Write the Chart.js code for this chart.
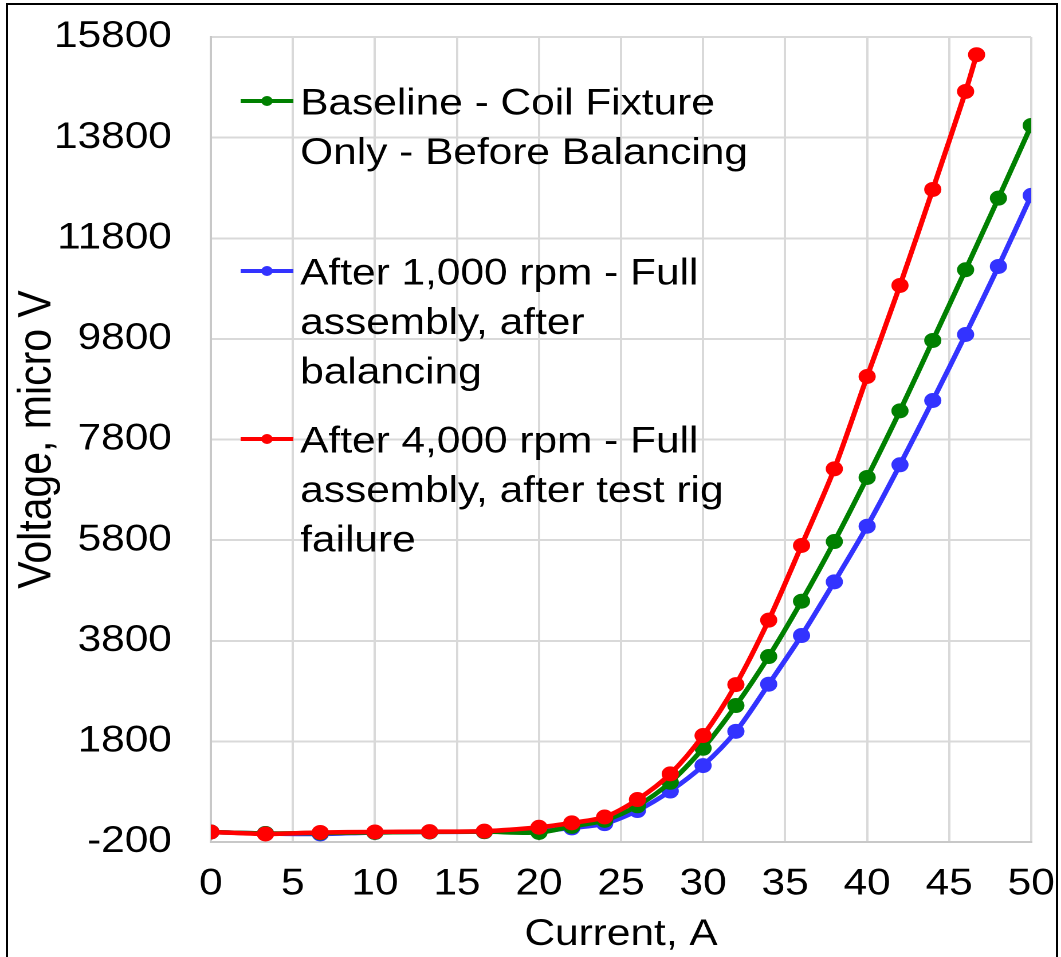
<!DOCTYPE html>
<html>
<head>
<meta charset="utf-8">
<script src="https://cdn.jsdelivr.net/npm/chart.js@4.4.1/dist/chart.umd.min.js"></script>
<style>
  html, body { margin: 0; padding: 0; background: #fff; }
  #page { position: relative; width: 1061px; height: 957px; overflow: hidden; background: #fff; }
  /* the reference text is a bit wide, so the chart is drawn narrower and stretched */
  #wrap { position: absolute; left: 0; top: 0; width: 926px; height: 957px; transform: scaleX(1.1458); transform-origin: 0 0; }
  #frame { position: absolute; left: 6px; top: 3px; right: 3px; bottom: -10px; border: 2px solid #000; pointer-events: none; }
</style>
</head>
<body>
<div id="page">
  <div id="wrap"><canvas id="chart" width="926" height="957"></canvas></div>
  <div id="frame"></div>
</div>
<script>
// Current, A
const currentLong = [0, 3.33, 6.67, 10, 13.33, 16.67, 20, 22, 24, 26, 28, 30, 32, 34, 36, 38, 40, 42, 44, 46, 48, 50];
const currentRed = [0, 3.33, 6.67, 10, 13.33, 16.67, 20, 22, 24, 26, 28, 30, 32, 34, 36, 38, 40, 42, 44, 46, 46.67];

// Voltage, micro V
const baselineV = [0, -30, -20, -10, 0, 5, -10, 110, 230, 520, 987, 1663, 2512, 3486, 4586, 5772, 7045, 8370, 9768, 11174, 12597, 14042];
const after1000V = [0, -30, -40, -10, 0, 5, 17, 80, 165, 425, 813, 1319, 1999, 2936, 3904, 4971, 6077, 7297, 8575, 9887, 11239, 12651];
const after4000V = [0, -40, -10, 0, 5, 15, 93, 180, 297, 644, 1154, 1916, 2929, 4209, 5693, 7217, 9052, 10862, 12770, 14718, 15448];

const legendLabels = [
    ['Baseline - Coil Fixture', 'Only - Before Balancing'],
    ['After 1,000 rpm - Full', 'assembly, after', 'balancing'],
    ['After 4,000 rpm - Full', 'assembly, after test rig', 'failure']
];

const yMin = -200;
const yMax = 15800;
const yStep = 2000;
const xMin = 0;
const xMax = 50;
const xStep = 5;

function toPoints(xs, ys) {
    return xs.map((x, i) => ({ x: x, y: ys[i] }));
}

const FONT = "'Liberation Sans', Arial, sans-serif";

const data = {
    datasets: [{
        data: toPoints(currentLong, baselineV),
        borderColor: '#008000',
        backgroundColor: '#008000',
        order: 1
    }, {
        data: toPoints(currentLong, after1000V),
        borderColor: '#3333ff',
        backgroundColor: '#3333ff',
        order: 2
    }, {
        data: toPoints(currentRed, after4000V),
        borderColor: '#ff0000',
        backgroundColor: '#ff0000',
        order: 0
    }]
};

// legend drawn by hand so the labels can wrap like the reference
const boxLegend = {
    id: 'boxLegend',
    afterDatasetsDraw(chart) {
        const { ctx } = chart;
        const rowStart = [101, 271, 439];
        const rowStep = 49.5;
        ctx.save();
        ctx.font = '37px ' + FONT;
        ctx.fillStyle = '#000';
        ctx.textAlign = 'left';
        ctx.textBaseline = 'alphabetic';
        legendLabels.forEach((lines, i) => {
            const color = chart.data.datasets[i].borderColor;
            const y0 = rowStart[i];
            ctx.beginPath();
            ctx.strokeStyle = color;
            ctx.lineWidth = 4;
            ctx.moveTo(210, y0);
            ctx.lineTo(256, y0);
            ctx.stroke();
            ctx.beginPath();
            ctx.fillStyle = color;
            ctx.arc(233, y0, 5, 0, Math.PI * 2);
            ctx.fill();
            ctx.fillStyle = '#000';
            lines.forEach((t, j) => {
                ctx.fillText(t, 262, y0 + 13.5 + j * rowStep);
            });
        });
        ctx.restore();
    }
};

// tick marks are kept but made invisible: their length gives the label gap
// without the extra padding chart.js adds for ticks.padding
const config = {
    type: 'line',
    data,
    options: {
        responsive: false,
        animation: false,
        devicePixelRatio: 2,
        layout: {
            padding: { top: 37, right: 26, bottom: 0, left: 0 }
        },
        elements: {
            line: { borderWidth: 4.5, tension: 0.3 },
            point: { radius: 7.5, hoverRadius: 7.5, borderWidth: 0 }
        },
        plugins: {
            legend: { display: false },
            tooltip: { enabled: false }
        },
        scales: {
            x: {
                type: 'linear',
                min: xMin,
                max: xMax,
                afterFit(scale) { scale.height = 115; },
                ticks: {
                    stepSize: xStep,
                    padding: 0,
                    color: '#000',
                    font: { family: FONT, size: 37 },
                    maxRotation: 0
                },
                grid: { color: '#d9d9d9', lineWidth: 2, drawTicks: true, tickLength: 20, tickColor: 'rgba(0,0,0,0)' },
                border: { color: '#c8c8c8', width: 2 },
                title: {
                    display: true,
                    text: 'Current, A',
                    color: '#000',
                    font: { family: FONT, size: 37 },
                    padding: { top: 0, bottom: 0 }
                }
            },
            y: {
                min: yMin,
                max: yMax,
                afterFit(scale) { scale.width = 184; },
                ticks: {
                    stepSize: yStep,
                    padding: 0,
                    color: '#000',
                    font: { family: FONT, size: 37 },
                    callback: (v) => String(v)
                },
                grid: { color: '#d9d9d9', lineWidth: 2, drawTicks: true, tickLength: 34, tickColor: 'rgba(0,0,0,0)' },
                border: { color: '#c8c8c8', width: 2 },
                title: {
                    display: true,
                    text: 'Voltage, micro V',
                    color: '#000',
                    font: { family: FONT, size: 41 },
                    padding: { top: 8, bottom: 0 }
                }
            }
        }
    },
    plugins: [boxLegend]
};

var chart = document.getElementById('chart');
var myChart = new Chart(chart, config);
</script>
</body>
</html>
